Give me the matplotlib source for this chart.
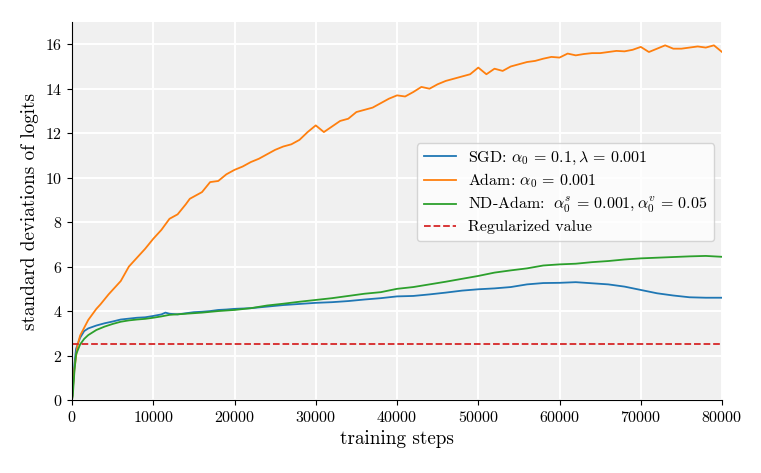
import matplotlib
matplotlib.use("Agg")
import matplotlib.pyplot as plt
import numpy as np

plt.rcParams['font.family'] = 'serif'
plt.rcParams['font.serif'] = ['cmr10', 'DejaVu Serif']
plt.rcParams['mathtext.fontset'] = 'cm'
plt.rcParams['axes.formatter.use_mathtext'] = True

# values
adam_steps = [0, 300, 700, 1000, 1500, 2000, 3000, 3500, 4500, 5000, 6000, 7000, 8000, 9000,
              10000, 11000, 12000, 13000, 14000, 14500, 15500, 16000, 17000, 18000, 19000,
              20000, 21000, 22000, 23000, 24000, 25000, 26000, 27000, 28000, 29000, 30000,
              31000, 32000, 33000, 34000, 35000, 36000, 37000, 38000, 39000, 40000, 41000,
              42000, 43000, 44000, 45000, 46000, 47000, 48000, 49000, 50000, 51000, 52000,
              53000, 54000, 55000, 56000, 57000, 58000, 59000, 60000, 61000, 62000, 63000,
              64000, 65000, 66000, 67000, 68000, 69000, 70000, 71000, 72000, 73000, 74000,
              75000, 76000, 77000, 78000, 79000, 80000]
adam_std = [0.0, 1.4, 2.5, 2.9, 3.25, 3.6, 4.1, 4.3, 4.75, 4.95, 5.35, 6.0, 6.4, 6.8,
            7.25, 7.65, 8.15, 8.35, 8.8, 9.05, 9.25, 9.35, 9.8, 9.85, 10.15,
            10.35, 10.5, 10.7, 10.85, 11.05, 11.25, 11.4, 11.5, 11.7, 12.05, 12.35,
            12.05, 12.3, 12.55, 12.65, 12.95, 13.05, 13.15, 13.35, 13.55, 13.7, 13.65,
            13.85, 14.08, 14.0, 14.2, 14.35, 14.45, 14.55, 14.65, 14.95, 14.65, 14.9,
            14.8, 15.0, 15.1, 15.2, 15.25, 15.35, 15.43, 15.4, 15.58, 15.5, 15.56,
            15.6, 15.6, 15.65, 15.7, 15.68, 15.75, 15.88, 15.65, 15.8, 15.95, 15.8,
            15.8, 15.85, 15.9, 15.85, 15.95, 15.65]

sgd_steps = [0, 100, 300, 500, 1000, 1500, 2000, 3000, 4000, 5000, 6000, 7000, 8000, 9000,
             10000, 11000, 11500, 12000, 13000, 14000, 15000, 16000, 17000, 18000, 19000,
             20000, 22000, 24000, 26000, 28000, 30000, 32000, 34000, 36000, 38000, 40000,
             42000, 44000, 46000, 48000, 50000, 52000, 54000, 56000, 58000, 60000, 62000,
             64000, 66000, 68000, 70000, 72000, 74000, 76000, 78000, 80000]
sgd_std = [0.0, 0.5, 1.6, 2.3, 2.8, 3.1, 3.22, 3.35, 3.45, 3.53, 3.62, 3.66, 3.7, 3.72,
           3.78, 3.85, 3.93, 3.88, 3.85, 3.9, 3.95, 3.97, 4.0, 4.05, 4.07,
           4.1, 4.13, 4.2, 4.27, 4.32, 4.37, 4.4, 4.45, 4.52, 4.58, 4.66,
           4.68, 4.75, 4.83, 4.92, 4.98, 5.02, 5.08, 5.2, 5.26, 5.27, 5.3,
           5.25, 5.2, 5.1, 4.95, 4.8, 4.7, 4.62, 4.6, 4.6]

nd_steps = [0, 100, 300, 500, 1000, 1500, 2000, 3000, 4000, 5000, 6000, 7000, 8000, 9000,
            10000, 11000, 12000, 14000, 16000, 18000, 20000, 22000, 24000, 26000, 28000,
            30000, 32000, 34000, 36000, 38000, 40000, 42000, 44000, 46000, 48000, 50000,
            52000, 54000, 56000, 58000, 60000, 62000, 64000, 66000, 68000, 70000, 72000,
            74000, 76000, 78000, 80000]
nd_std = [0.0, 0.2, 1.3, 2.05, 2.5, 2.75, 2.92, 3.15, 3.3, 3.42, 3.52, 3.58, 3.62, 3.65,
          3.7, 3.76, 3.83, 3.88, 3.93, 4.0, 4.05, 4.13, 4.25, 4.33, 4.42,
          4.5, 4.58, 4.68, 4.78, 4.85, 5.0, 5.08, 5.2, 5.32, 5.45, 5.58,
          5.73, 5.83, 5.92, 6.05, 6.1, 6.13, 6.2, 6.25, 6.32, 6.37, 6.4,
          6.43, 6.46, 6.48, 6.44]

reg_value = 2.5

fig = plt.figure(figsize=(7.61, 4.73), dpi=100)
ax = fig.add_axes([0.0946, 0.1543, 0.8542, 0.7992])
ax.set_facecolor('#f0f0f0')
ax.grid(True, color='white', linewidth=1.4)
ax.set_axisbelow(True)
for s in ['top', 'right']:
    ax.spines[s].set_visible(False)

ax.plot(sgd_steps, sgd_std, color='tab:blue', lw=1.3,
        label=r'SGD: $\alpha_0 \,=\, 0.1, \lambda \,=\, 0.001$')
ax.plot(adam_steps, adam_std, color='tab:orange', lw=1.3,
        label=r'Adam: $\alpha_0 \,=\, 0.001$')
ax.plot(nd_steps, nd_std, color='tab:green', lw=1.3,
        label=r'ND-Adam: $\;\alpha_0^s \,=\, 0.001, \alpha_0^v \,=\, 0.05$')
ax.axhline(reg_value, color='tab:red', ls='--', lw=1.3, label='Regularized value')

ax.set_xlim(0, 80000)
ax.set_ylim(0, 17)
ax.set_xticks(np.arange(0, 80001, 10000))
ax.set_yticks(np.arange(0, 17, 2))
ax.tick_params(labelsize=11.5)
ax.set_xlabel('training steps', fontsize=13.8)
ax.set_ylabel('standard deviations of logits', fontsize=13.8)

ax.legend(loc='center right', bbox_to_anchor=(1.0, 0.55), fontsize=11.5,
          labelspacing=0.3)

fig.savefig('out.png', dpi=100)
